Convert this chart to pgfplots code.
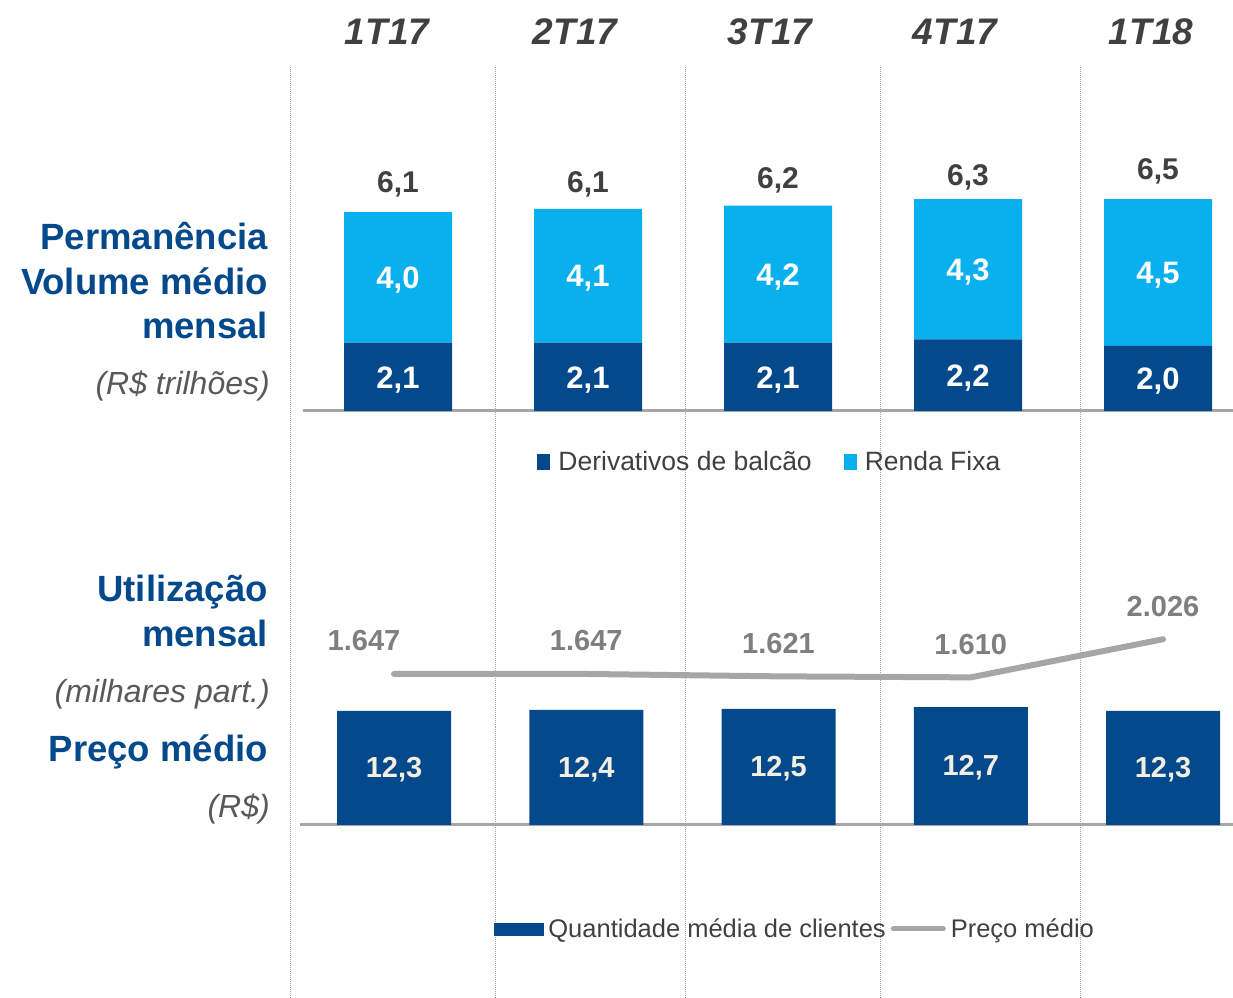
\documentclass[border=0pt]{standalone}
\usepackage{pgfplots}
\pgfplotsset{compat=1.18}
\usepackage{pgfplotstable}
\usepackage{fontspec}
\setmainfont{Liberation Sans}
\definecolor{dblue}{RGB}{3,73,140}
\definecolor{lblue}{RGB}{8,176,238}
\definecolor{hdr}{RGB}{64,64,64}
\definecolor{lgray}{RGB}{166,166,166}
\definecolor{tgray}{RGB}{127,127,127}
\definecolor{sgray}{RGB}{89,89,89}
\definecolor{cream}{RGB}{242,238,226}

\pgfplotstableread{
x der rf tot
0 2.1 4.0 6.1
1 2.1 4.1 6.1
2 2.1 4.2 6.2
3 2.2 4.3 6.3
4 2.0 4.5 6.5
}\topdata
\pgfplotstableread{
x qtd preco
0 12.3 1647
1 12.4 1647
2 12.5 1621
3 12.7 1610
4 12.3 2026
}\botdata

\begin{document}
\begin{tikzpicture}[x=1bp,y=1bp]
\path[use as bounding box] (0,0) rectangle (1233,998);
% dotted separators
\foreach \xx in {290,495,685,880,1080}{
  \draw[lgray, densely dotted, line width=1bp] (\xx,0) -- (\xx,931);
}
% column headers
\foreach \xx/\t in {387/1T17,575/2T17,770/3T17,955/4T17,1151/1T18}{
  \node[font=\fontsize{37bp}{44bp}\selectfont\bfseries\itshape, text=hdr] at (\xx,966) {\t};
}
% left labels
\begin{scope}[every node/.style={anchor=base east, inner sep=0pt}]
\node[font=\fontsize{36.5bp}{44bp}\selectfont\bfseries, text=dblue] at (268,748) {Permanência};
\node[font=\fontsize{36.5bp}{44bp}\selectfont\bfseries, text=dblue] at (268,703) {Volume médio};
\node[font=\fontsize{36.5bp}{44bp}\selectfont\bfseries, text=dblue] at (268,659) {mensal};
\node[font=\fontsize{32bp}{40bp}\selectfont\itshape, text=sgray] at (270,603) {(R\$ trilhões)};
\node[font=\fontsize{36.5bp}{44bp}\selectfont\bfseries, text=dblue] at (268,396) {Utilização};
\node[font=\fontsize{36.5bp}{44bp}\selectfont\bfseries, text=dblue] at (268,351) {mensal};
\node[font=\fontsize{32bp}{40bp}\selectfont\itshape, text=sgray] at (270,295) {(milhares part.)};
\node[font=\fontsize{36.5bp}{44bp}\selectfont\bfseries, text=dblue] at (268,236) {Preço médio};
\node[font=\fontsize{32bp}{40bp}\selectfont\itshape, text=sgray] at (270,180) {(R\$)};
\end{scope}

% ---------- top panel ----------
\begin{axis}[
  at={(303bp,587bp)}, anchor=south west,
  scale only axis, width=930bp, height=344bp,
  xmin=-0.5, xmax=4.3947, ymin=0, ymax=10.55,
  ybar stacked, bar width=108bp,
  axis x line*=bottom, hide y axis,
  xtick=\empty, ytick=\empty,
  x axis line style={lgray, line width=3bp},
  clip=false,
  legend style={at={(0.502,-0.148)}, anchor=center, draw=none, fill=none,
    font=\fontsize{26.5bp}{30bp}\selectfont, text=hdr,
    /tikz/every odd column/.append style={column sep=6bp},
    /tikz/every even column/.append style={column sep=30bp},
    inner sep=0pt},
  legend columns=2,
  legend image code/.code={\fill[#1] (0bp,-8bp) rectangle (13bp,8bp);},
]
\addplot[fill=dblue, draw=none] table[x=x, y=der] {\topdata};
\addplot[fill=lblue, draw=none] table[x=x, y=rf] {\topdata};
\legend{Derivativos de balcão, Renda Fixa}
\end{axis}

% ---------- top panel: value labels ----------
\begin{axis}[
  at={(303bp,587bp)}, anchor=south west,
  scale only axis, width=930bp, height=344bp,
  xmin=-0.5, xmax=4.3947, ymin=0, ymax=10.55,
  hide axis, clip=false,
  /pgf/number format/.cd, use comma, fixed, fixed zerofill, precision=1, assume math mode=true,
]
% labels inside the Derivativos segments
\addplot[draw=none, mark=none, point meta=explicit, nodes near coords,
  every node near coord/.append style={anchor=center, inner sep=0pt, yshift=-3bp,
    text=white, font=\fontsize{31bp}{36bp}\selectfont\bfseries}
] table[x=x, y expr=\thisrow{der}/2, meta=der] {\topdata};
% labels inside the Renda Fixa segments
\addplot[draw=none, mark=none, point meta=explicit, nodes near coords,
  every node near coord/.append style={anchor=center, inner sep=0pt, yshift=-3bp,
    text=white, font=\fontsize{31bp}{36bp}\selectfont\bfseries}
] table[x=x, y expr=\thisrow{der}+\thisrow{rf}/2, meta=rf] {\topdata};
% totals
\addplot[draw=none, mark=none, nodes near coords,
  every node near coord/.append style={anchor=base, inner sep=0pt, yshift=20bp,
    text=hdr, font=\fontsize{30bp}{36bp}\selectfont\bfseries}
] table[x=x, y=tot] {\topdata};
\end{axis}

% ---------- bottom panel: bars ----------
\begin{axis}[
  at={(300bp,173bp)}, anchor=south west,
  scale only axis, width=933bp, height=275bp,
  xmin=-0.48895, xmax=4.3642, ymin=0, ymax=29.63,
  ybar, bar width=114bp, bar shift=0pt,
  axis x line*=bottom, hide y axis,
  xtick=\empty, ytick=\empty,
  x axis line style={lgray, line width=3bp},
  clip=false,
  /pgf/number format/.cd, use comma, fixed, fixed zerofill, precision=1, assume math mode=true,
]
\addplot[fill=dblue, draw=none,
  visualization depends on={y \as \myval},
  nodes near coords={\pgfmathprintnumber{\myval}},
  every node near coord/.append style={anchor=center, inner sep=0pt,
    shift={(axis direction cs:0,-\myval/2)}, yshift=-2bp, text=cream,
    font=\fontsize{29bp}{34bp}\selectfont\bfseries}
] table[x=x, y=qtd] {\botdata};
\end{axis}

% ---------- bottom panel: line ----------
\begin{axis}[
  at={(300bp,173bp)}, anchor=south west,
  scale only axis, width=933bp, height=275bp,
  xmin=-0.48895, xmax=4.3642, ymin=0, ymax=2999,
  hide axis, clip=false,
  /pgf/number format/.cd, use comma, fixed, precision=0, 1000 sep={.}, assume math mode=true,
  /pgfplots/.cd,
  legend style={at={(0.5305,-0.378)}, anchor=center, draw=none, fill=none,
    font=\fontsize{25.5bp}{30bp}\selectfont, text=hdr,
    /tikz/every odd column/.append style={column sep=3bp},
    /tikz/every even column/.append style={column sep=3bp},
    inner sep=0pt},
  legend columns=2,
]
\addlegendimage{legend image code/.code={\fill[dblue] (0bp,-6bp) rectangle (49bp,6bp);}}
\addlegendentry{Quantidade média de clientes}
\addplot[lgray, line width=6bp, line cap=round, line join=round,
  legend image code/.code={\draw[lgray, line width=5bp, line cap=round] (0bp,0bp) -- (50bp,0bp);},
  visualization depends on={\coordindex \as \idx},
  nodes near coords,
  every node near coord/.append style={anchor=base, inner sep=0pt, yshift=23bp,
    xshift={(\idx==0)*(-30bp)},
    text=tgray, font=\fontsize{29bp}{34bp}\selectfont\bfseries}
] table[x=x, y=preco] {\botdata};
\addlegendentry{Preço médio}
\end{axis}
\end{tikzpicture}
\end{document}
